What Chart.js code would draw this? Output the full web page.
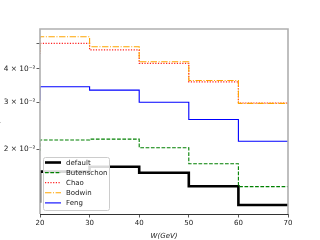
<!DOCTYPE html>
<html><head><meta charset="utf-8">
<script src="https://cdn.jsdelivr.net/npm/chart.js@4/dist/chart.umd.min.js"></script>
<style>
html,body{margin:0;padding:0;background:#fff;overflow:hidden;width:320px;height:240px;}
#wrap{position:absolute;left:-7px;top:0;width:327px;height:240px;}
</style></head>
<body><div id="wrap"><canvas id="c" width="327" height="240"></canvas></div>
<script>
// bin edges (first edge is an off-axis bin, 10-20, whose right edge shows as a vertical at W=20)
const edges = [10, 20, 30, 40, 50, 60, 70];
const seriesNames = ['default', 'Butenschon', 'Chao', 'Bodwin', 'Feng'];
const vDefault    = [0.0127, 0.01645, 0.01717, 0.0163, 0.01449, 0.01232];
const vButenschon = [0.0198, 0.02163, 0.0218, 0.02024, 0.01762, 0.01445];
const vChao       = [0.0459, 0.0499, 0.0472, 0.0420, 0.0358, 0.0298];
const vBodwin     = [0.0460, 0.0529, 0.0485, 0.0426, 0.0362, 0.0297];
const vFeng       = [0.0306, 0.0343, 0.0333, 0.0300, 0.02583, 0.0214];
const yTicks = [0.02, 0.03, 0.04, 0.05];
const yTickLabels = ['2 × 10⁻²', '3 × 10⁻²', '4 × 10⁻²', ''];
const xTicks = [20, 30, 40, 50, 60, 70];

function stepPts(vals){
  const out = [{x: edges[0], y: vals[0]}];
  for (let i = 1; i < edges.length; i++) out.push({x: edges[i], y: vals[i-1]});
  return out;
}

const styles = [
  {color:'#000000', width:2.6, dash:[]},
  {color:'#008000', width:1.1, dash:[3.7,1.6]},
  {color:'#ff2020', width:1.2, dash:[1.2,1.5]},
  {color:'#ffa500', width:1.1, dash:[6.4,1.6,1,1.6]},
  {color:'#0000ff', width:1.1, dash:[]}
];
const allVals = [vDefault, vButenschon, vChao, vBodwin, vFeng];

const datasets = seriesNames.map((n, i) => ({
  label: n,
  data: stepPts(allVals[i]),
  borderColor: styles[i].color,
  borderWidth: styles[i].width,
  borderDash: styles[i].dash,
  stepped: 'after',
  pointRadius: 0,
  fill: false,
  order: 5 - i,
  clip: 0
}));

const spines = {
  id: 'spines',
  afterDatasetsDraw(chart){
    const {ctx, chartArea: a} = chart;
    ctx.save();
    ctx.strokeStyle = '#b0b0b0';
    ctx.lineWidth = 1.6;
    ctx.beginPath();
    ctx.moveTo(a.left, a.bottom); ctx.lineTo(a.left, a.top);
    ctx.lineTo(a.right, a.top); ctx.lineTo(a.right, a.bottom);
    ctx.stroke();
    ctx.strokeStyle = '#333333';
    ctx.lineWidth = 1;
    ctx.beginPath();
    ctx.moveTo(a.left, a.bottom + 0.5); ctx.lineTo(a.right, a.bottom + 0.5);
    ctx.stroke();
    ctx.restore();
  }
};

const legendBox = {
  id: 'legendBox',
  afterDraw(chart){
    const {ctx, chartArea: a} = chart;
    const x0 = a.left + 3, y0 = 157, w = 66, h = 53;
    ctx.save();
    ctx.fillStyle = 'rgba(255,255,255,0.85)';
    ctx.strokeStyle = '#cccccc';
    ctx.lineWidth = 1;
    ctx.beginPath();
    ctx.roundRect(x0 + 0.5, y0 + 0.5, w, h, 2);
    ctx.fill(); ctx.stroke();
    ctx.font = '7px "DejaVu Sans"';
    ctx.textBaseline = 'middle';
    ctx.fillStyle = '#222';
    chart.data.datasets.forEach((d, i) => {
      const yy = y0 + 5.5 + i * 10.1;
      ctx.beginPath();
      ctx.strokeStyle = d.borderColor;
      ctx.lineWidth = d.borderWidth;
      ctx.setLineDash(d.borderDash);
      ctx.moveTo(x0 + 2, yy); ctx.lineTo(x0 + 18, yy);
      ctx.stroke();
      ctx.setLineDash([]);
      ctx.fillText(d.label, x0 + 23, yy + 0.3);
    });
    ctx.restore();
  }
};

new Chart(document.getElementById('c'), {
  type: 'line',
  data: { datasets },
  plugins: [spines, legendBox],
  options: {
    responsive: false,
    animation: false,
    devicePixelRatio: 1,
    layout: { padding: { top: 29, right: 32, left: 0, bottom: 0 } },
    plugins: { legend: { display: false }, tooltip: { enabled: false } },
    scales: {
      x: {
        type: 'linear', min: 20, max: 70,
        afterBuildTicks: s => { s.ticks = xTicks.map(v => ({value: v})); },
        afterFit: s => { s.height = 26; },
        grid: { drawOnChartArea: false, tickLength: 3.5, color: '#333', tickWidth: 0.8 },
        border: { display: false },
        ticks: { font: { size: 7, family: 'DejaVu Sans' }, color: '#222', padding: 1, maxRotation: 0 },
        title: { display: true, text: 'W(GeV)', font: { size: 7, family: 'DejaVu Sans', style: 'italic' }, color: '#222', padding: { top: 0, bottom: 0 } }
      },
      y: {
        type: 'logarithmic', min: 0.0114, max: 0.05655,
        afterBuildTicks: s => { s.ticks = yTicks.map(v => ({value: v})); },
        afterFit: s => { s.width = 47; },
        grid: { drawOnChartArea: false, tickLength: 3.5, color: '#333', tickWidth: 0.8 },
        border: { display: false },
        ticks: {
          font: { size: 7.4, family: 'DejaVu Sans' }, color: '#222', padding: 1,
          callback: (v) => { const k = yTicks.indexOf(v); return k >= 0 ? yTickLabels[k] : ''; }
        },
        title: { display: true, text: 'dσ/dW(pb/GeV)', font: { size: 7, family: 'DejaVu Sans', style: 'italic' }, color: '#222', padding: 0 }
      }
    }
  }
});
</script></body></html>
